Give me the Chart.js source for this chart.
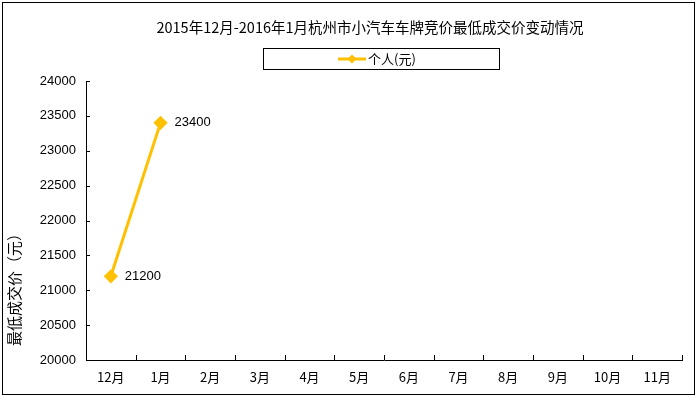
<!DOCTYPE html>
<html>
<head>
<meta charset="utf-8">
<script src="https://cdn.jsdelivr.net/npm/chart.js@4/dist/chart.umd.min.js"></script>
<style>
  html, body { margin: 0; padding: 0; background: #fff; }
  #wrap { width: 698px; height: 398px; }
</style>
</head>
<body>
<div id="wrap"><canvas id="grafica" width="698" height="398"></canvas></div>
<script>
const titulo = "2015年12月-2016年1月杭州市小汽车车牌竞价最低成交价变动情况";
const meses = ["12月", "1月", "2月", "3月", "4月", "5月", "6月", "7月", "8月", "9月", "10月", "11月"];
const precioPersonal = [21200, 23400, null, null, null, null, null, null, null, null, null, null];
const serieNombre = "个人(元)";
const ejeY = "最低成交价（元）";

const FUENTE = "'Liberation Sans', 'Noto Sans CJK SC', sans-serif";
const COLOR = "#FFC000";

// marco, titulo, leyenda, marcas de eje y etiquetas
const decoracion = {
  id: "decoracion",
  beforeDraw(chart) {
    const c = chart.ctx;
    c.save();
    c.fillStyle = "#fff";
    c.fillRect(0, 0, chart.width, chart.height);
    c.restore();
  },
  afterDraw(chart) {
    const c = chart.ctx;
    const { x, y } = chart.scales;
    const area = chart.chartArea;
    c.save();

    // marco exterior
    c.strokeStyle = "#000";
    c.lineWidth = 1;
    c.strokeRect(2.5, 2.5, 692, 392);

    // titulo
    c.fillStyle = "#000";
    c.font = "14.5px 'Noto Sans CJK SC', sans-serif";
    c.textAlign = "center";
    c.textBaseline = "middle";
    c.fillText(titulo, 370, 27);

    // leyenda
    c.strokeRect(263.5, 48.5, 236, 21);
    c.strokeStyle = COLOR;
    c.lineWidth = 3;
    c.beginPath();
    c.moveTo(338, 59);
    c.lineTo(366, 59);
    c.stroke();
    c.fillStyle = COLOR;
    c.beginPath();
    c.moveTo(352, 54.5);
    c.lineTo(356.5, 59);
    c.lineTo(352, 63.5);
    c.lineTo(347.5, 59);
    c.closePath();
    c.fill();
    c.fillStyle = "#000";
    c.font = "13px 'Noto Sans CJK SC', sans-serif";
    c.textAlign = "left";
    c.fillText(serieNombre, 368, 59);

    // titulo eje Y
    c.save();
    c.translate(14, 286);
    c.rotate(-Math.PI / 2);
    c.textAlign = "center";
    c.font = "15px 'Noto Sans CJK SC', sans-serif";
    c.fillText(ejeY, 0, 0);
    c.restore();

    // marcas hacia dentro
    c.strokeStyle = "#000";
    c.lineWidth = 1;
    c.beginPath();
    y.ticks.forEach((t, i) => {
      const py = Math.round(y.getPixelForTick(i)) + 0.5;
      c.moveTo(area.left, py);
      c.lineTo(area.left + 4, py);
    });
    for (let i = 1; i <= meses.length; i++) {
      const px = Math.round(x.getPixelForValue(i - 0.5)) + 0.5;
      c.moveTo(px, area.bottom);
      c.lineTo(px, area.bottom - 5);
    }
    c.stroke();

    // etiquetas de datos
    c.font = "13px " + FUENTE;
    c.textAlign = "left";
    c.textBaseline = "middle";
    c.fillStyle = "#000";
    const meta = chart.getDatasetMeta(0);
    meta.data.forEach((p, i) => {
      const v = precioPersonal[i];
      if (v == null) return;
      c.fillText(String(v), p.x + 14, p.y);
    });

    c.restore();
  }
};

new Chart(document.getElementById("grafica").getContext("2d"), {
  type: "line",
  data: {
    labels: meses,
    datasets: [{
      label: serieNombre,
      data: precioPersonal,
      borderColor: COLOR,
      backgroundColor: COLOR,
      borderWidth: 3,
      pointStyle: "rectRot",
      pointRadius: 5,
      pointHoverRadius: 5,
      tension: 0,
      spanGaps: false
    }]
  },
  plugins: [decoracion],
  options: {
    responsive: false,
    animation: false,
    layout: { padding: { top: 81, right: 16, bottom: 0, left: 0 } },
    plugins: {
      legend: { display: false },
      title: { display: false },
      tooltip: { enabled: false }
    },
    scales: {
      x: {
        offset: true,
        afterFit(s) { s.height = 38; },
        grid: { display: false, drawTicks: false },
        border: { display: true, color: "#000", width: 1 },
        ticks: {
          color: "#000",
          padding: 9,
          maxRotation: 0,
          autoSkip: false,
          font: { family: "'Noto Sans CJK SC', sans-serif", size: 13 }
        }
      },
      y: {
        min: 20000,
        max: 24000,
        afterFit(s) { s.width = 86; },
        grid: { display: false, drawTicks: false },
        border: { display: true, color: "#000", width: 1 },
        ticks: {
          stepSize: 500,
          color: "#000",
          padding: 10,
          font: { family: FUENTE, size: 13 },
          callback: v => String(v)
        }
      }
    }
  }
});
</script>
</body>
</html>
